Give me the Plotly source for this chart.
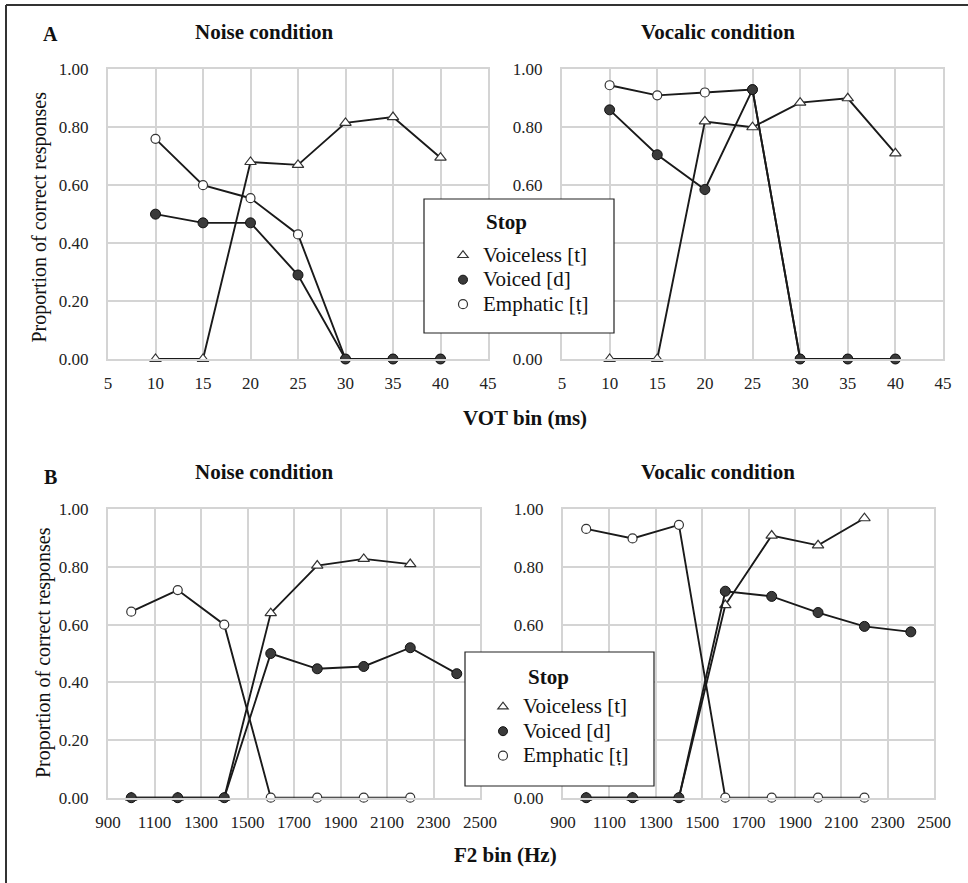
import plotly.graph_objects as go

W, H = 968, 883

vot_bins = [10, 15, 20, 25, 30, 35, 40]
noise_vot_voiceless = [0.0, 0.0, 0.68, 0.67, 0.815, 0.835, 0.695]
noise_vot_voiced = [0.50, 0.47, 0.47, 0.29, 0.0, 0.0, 0.0]
noise_vot_emphatic = [0.76, 0.60, 0.555, 0.43, 0.0, 0.0, 0.0]
vocalic_vot_voiceless = [0.0, 0.0, 0.82, 0.80, 0.885, 0.90, 0.71]
vocalic_vot_voiced = [0.86, 0.705, 0.585, 0.93, 0.0, 0.0, 0.0]
vocalic_vot_emphatic = [0.945, 0.91, 0.92, 0.93, 0.0, 0.0, 0.0]

f2_bins = [1000, 1200, 1400, 1600, 1800, 2000, 2200, 2400]
noise_f2_voiceless = [0.0, 0.0, 0.0, 0.64, 0.805, 0.828, 0.81, None]
noise_f2_voiced = [0.0, 0.0, 0.0, 0.50, 0.447, 0.455, 0.52, 0.43]
noise_f2_emphatic = [0.645, 0.72, 0.60, 0.0, 0.0, 0.0, 0.0, None]
vocalic_f2_voiceless = [0.0, 0.0, 0.0, 0.668, 0.909, 0.875, 0.969, None]
vocalic_f2_voiced = [0.0, 0.0, 0.0, 0.716, 0.698, 0.642, 0.594, 0.575]
vocalic_f2_emphatic = [0.932, 0.899, 0.946, 0.0, 0.0, 0.0, 0.0, None]

series_names = ["Voiceless [t]", "Voiced [d]", "Emphatic [\u1e6d]"]
y_ticks = [0, 0.2, 0.4, 0.6, 0.8, 1.0]
vot_ticks = [5, 10, 15, 20, 25, 30, 35, 40, 45]
f2_ticks = [900, 1100, 1300, 1500, 1700, 1900, 2100, 2300, 2500]

FONT = "Liberation Serif"
LINE_C = "#1a1a1a"
GRID_C = "#d4d4d4"

styles = {
    "Voiceless [t]": dict(symbol="triangle-up", size=10, color="white", line=dict(color="#333", width=1.2)),
    "Voiced [d]": dict(symbol="circle", size=10, color="#3a3a3a", line=dict(color="#111", width=1)),
    "Emphatic [\u1e6d]": dict(symbol="circle", size=9, color="white", line=dict(color="#333", width=1.2)),
}

fig = go.Figure()

panels = [
    ("x", "y", vot_bins, [noise_vot_emphatic, noise_vot_voiceless, noise_vot_voiced]),
    ("x2", "y2", vot_bins, [vocalic_vot_emphatic, vocalic_vot_voiceless, vocalic_vot_voiced]),
    ("x3", "y3", f2_bins, [noise_f2_emphatic, noise_f2_voiceless, noise_f2_voiced]),
    ("x4", "y4", f2_bins, [vocalic_f2_emphatic, vocalic_f2_voiceless, vocalic_f2_voiced]),
]
draw_names = ["Emphatic [\u1e6d]", "Voiceless [t]", "Voiced [d]"]
for xa, ya, xs, ys_list in panels:
    for name, ys in zip(draw_names, ys_list):
        fig.add_trace(go.Scatter(
            x=xs, y=ys, xaxis=xa, yaxis=ya, mode="lines+markers",
            line=dict(color=LINE_C, width=1.9), marker=styles[name],
            showlegend=False, cliponaxis=False, connectgaps=False, name=name))

# legend entries (markers only)
for lg in ["legend", "legend2"]:
    for name in series_names:
        st = dict(styles[name])
        st["size"] = 9
        fig.add_trace(go.Scatter(x=[None], y=[None], xaxis="x", yaxis="y", mode="markers",
                                 marker=st, name='<span style="font-size:21px">%s</span>' % name,
                                 legend=lg, showlegend=True))


def px_x(p):
    return p / W


def px_y(p):
    return 1 - p / H


def axis_common():
    return dict(showgrid=True, gridcolor=GRID_C, gridwidth=2, showline=True, linecolor=GRID_C,
                linewidth=2, mirror=True, zeroline=False, ticks="", automargin=False,
                tickfont=dict(family=FONT, size=17, color="#222"))


layout = dict(
    width=W, height=H, margin=dict(l=0, r=0, t=0, b=0, pad=0, autoexpand=False),
    plot_bgcolor="white", paper_bgcolor="white",
    font=dict(family=FONT, color="#111"),
)

xdoms = [(108, 488), (562, 943), (108, 480), (563, 934)]
ydoms = [(69.3, 359), (69.3, 359), (509.3, 797.7), (509.3, 797.7)]
for i in range(4):
    sx = "" if i == 0 else str(i + 1)
    xa = axis_common()
    xa.update(domain=[px_x(xdoms[i][0]), px_x(xdoms[i][1])], anchor="y" + sx, ticklabelstandoff=8)
    if i < 2:
        xa.update(range=[5, 45], tickvals=vot_ticks, ticktext=[str(v) for v in vot_ticks])
    else:
        xa.update(range=[900, 2500], tickvals=f2_ticks, ticktext=[str(v) for v in f2_ticks])
    ya = axis_common()
    if i in (1, 3):
        # labels 0.20 / 0.40 are hidden behind the legend box in the reference
        yt = ["" if v in (0.2, 0.4) else "%.2f" % v for v in y_ticks]
    else:
        yt = ["%.2f" % v for v in y_ticks]
    ya.update(domain=[px_y(ydoms[i][1]), px_y(ydoms[i][0])], anchor="x" + sx, range=[0, 1],
              tickvals=y_ticks, ticktext=yt, ticklabelstandoff=14)
    layout["xaxis" + sx] = xa
    layout["yaxis" + sx] = ya

layout["legend"] = dict(x=px_x(443), y=px_y(238), xanchor="left", yanchor="top",
                        bgcolor="rgba(0,0,0,0)", borderwidth=0, traceorder="normal",
                        font=dict(family=FONT, size=16.5, color="#111"), tracegroupgap=0)
layout["legend2"] = dict(x=px_x(483), y=px_y(689.5), xanchor="left", yanchor="top",
                         bgcolor="rgba(0,0,0,0)", borderwidth=0, traceorder="normal",
                         font=dict(family=FONT, size=16.5, color="#111"), tracegroupgap=0)

shapes = [
    dict(type="rect", xref="paper", yref="paper", x0=px_x(424), x1=px_x(614), y0=px_y(333), y1=px_y(199),
         line=dict(color="#222", width=1.2), fillcolor="white", layer="above"),
    dict(type="rect", xref="paper", yref="paper", x0=px_x(465), x1=px_x(654), y0=px_y(786), y1=px_y(652),
         line=dict(color="#222", width=1.2), fillcolor="white", layer="above"),
    dict(type="line", xref="paper", yref="paper", x0=px_x(6), x1=1, y0=px_y(5), y1=px_y(5),
         line=dict(color="#333", width=2)),
    dict(type="line", xref="paper", yref="paper", x0=px_x(6), x1=px_x(6), y0=px_y(5), y1=0,
         line=dict(color="#333", width=2)),
]
layout["shapes"] = shapes


def ann(text, x, y, size, bold=False, angle=0):
    return dict(text=("<b>%s</b>" % text) if bold else text, x=px_x(x), y=px_y(y),
                xref="paper", yref="paper", xanchor="center", yanchor="middle",
                showarrow=False, textangle=angle, font=dict(family=FONT, size=size, color="#111"))


layout["annotations"] = [
    ann("A", 50, 34, 20, True),
    ann("Noise condition", 264, 32, 21, True),
    ann("Vocalic condition", 717.5, 32, 21, True),
    ann("VOT bin (ms)", 524.5, 418, 21, True),
    ann("B", 50, 477, 20, True),
    ann("Noise condition", 264, 472, 21, True),
    ann("Vocalic condition", 717.5, 472, 21, True),
    ann("F2 bin (Hz)", 505, 855, 21, True),
    ann("Proportion of correct responses", 38.5, 217, 20, False, -90),
    ann("Proportion of correct responses", 43, 653, 20, False, -90),
    ann("Stop", 506.5, 222, 21, True),
    ann("Stop", 548, 677, 21, True),
]

fig.update_layout(**layout)
fig.write_html("out.html", post_script="document.body.style.margin='0px';")
